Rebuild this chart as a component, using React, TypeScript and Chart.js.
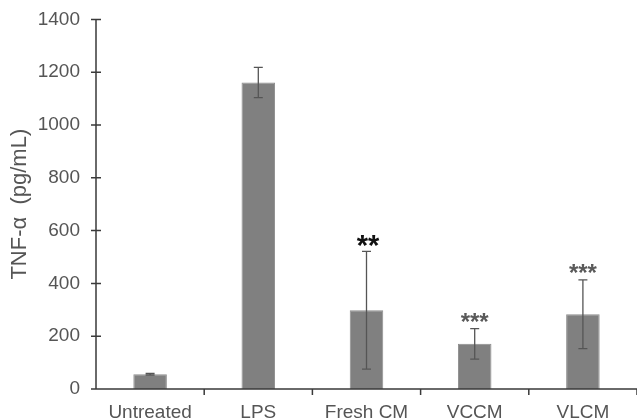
import React, { useEffect, useRef } from "react";
import { Chart, registerables } from "chart.js";

Chart.register(...registerables);

const categories = ["Untreated", "LPS", "Fresh CM", "VCCM", "VLCM"];
const means = [56, 1161, 298, 171, 283];
const errors = [3, 57, 223, 58, 130];
const significance = ["", "", "**", "***", "***"];
const yTicks = [0, 200, 400, 600, 800, 1000, 1200, 1400];
const yTitle = "TNF-α  (pg/mL)";

const FONT = "'Liberation Sans', Arial, sans-serif";

const overlayPlugin = {
  id: "overlay",
  afterDatasetsDraw(chart: any) {
    const ctx = chart.ctx;
    const xs = chart.scales.x;
    const ys = chart.scales.y;
    const area = chart.chartArea;
    ctx.save();
    // error bars
    ctx.strokeStyle = "#555555";
    ctx.lineWidth = 1.3;
    const cap = 4.5;
    means.forEach((m, i) => {
      const x = xs.getPixelForValue(i);
      const yt = ys.getPixelForValue(m + errors[i]);
      const yb = ys.getPixelForValue(m - errors[i]);
      ctx.beginPath();
      ctx.moveTo(x, yt);
      ctx.lineTo(x, yb);
      ctx.moveTo(x - cap, yt);
      ctx.lineTo(x + cap, yt);
      ctx.moveTo(x - cap, yb);
      ctx.lineTo(x + cap, yb);
      ctx.stroke();
    });
    // significance markers
    significance.forEach((s, i) => {
      if (!s) return;
      const big = s.length === 2;
      ctx.font = big ? `bold 29px ${FONT}` : `bold 24px ${FONT}`;
      ctx.fillStyle = big ? "#111111" : "#5a5a5a";
      ctx.textAlign = "center";
      ctx.textBaseline = "alphabetic";
      const mt = ctx.measureText(s);
      const target = ys.getPixelForValue(means[i] + errors[i]) - (big ? 10 : 11);
      const base = target + (mt.actualBoundingBoxAscent - mt.actualBoundingBoxDescent) / 2;
      ctx.fillText(s, xs.getPixelForValue(i) + (big ? 1.5 : 0), base);
    });
    // axes
    ctx.strokeStyle = "#3a3a3a";
    ctx.lineWidth = 1.5;
    ctx.beginPath();
    ctx.moveTo(area.left, area.top);
    ctx.lineTo(area.left, area.bottom);
    ctx.moveTo(area.left - 5, area.bottom);
    ctx.lineTo(area.right, area.bottom);
    yTicks.forEach((v) => {
      const y = ys.getPixelForValue(v);
      ctx.moveTo(area.left - 5, y);
      ctx.lineTo(area.left + 5, y);
    });
    for (let i = 1; i <= categories.length; i++) {
      const x = area.left + ((area.right - area.left) * i) / categories.length;
      ctx.moveTo(x, area.bottom);
      ctx.lineTo(x, area.bottom + 6);
    }
    ctx.stroke();
    ctx.restore();
  },
};

export default function App() {
  const ref = useRef<HTMLCanvasElement>(null);
  useEffect(() => {
    if (!ref.current) return;
    const chart = new Chart(ref.current, {
      type: "bar",
      data: {
        labels: categories,
        datasets: [
          {
            data: means,
            backgroundColor: "#808080",
            borderColor: "#8c8c8c",
            borderWidth: 1,
            categoryPercentage: 1,
            barPercentage: 0.31,
          },
        ],
      },
      options: {
        animation: false,
        responsive: true,
        maintainAspectRatio: false,
        layout: { padding: { top: 18, right: 0, left: 0, bottom: 0 } },
        plugins: { legend: { display: false }, tooltip: { enabled: false } },
        scales: {
          x: {
            grid: { display: false },
            border: { display: false },
            ticks: { color: "#555555", font: { family: FONT, size: 19 }, padding: 4, maxRotation: 0 },
            afterFit: (s: any) => {
              s.height = 30;
            },
          },
          y: {
            min: 0,
            max: 1400,
            grid: { display: false },
            border: { display: false },
            ticks: {
              stepSize: 200,
              color: "#555555",
              font: { family: FONT, size: 19 },
              padding: 8,
              callback: (v: any) => String(v),
            },
            title: {
              display: true,
              text: yTitle,
              color: "#555555",
              font: { family: FONT, size: 22 },
              padding: { top: 7, bottom: 0 },
            },
            afterFit: (s: any) => {
              s.width = 96;
            },
          },
        },
      },
      plugins: [overlayPlugin],
    });
    return () => chart.destroy();
  }, []);
  return (
    <div style={{ position: "fixed", left: 0, top: 0, width: 637, height: 419, background: "#fff" }}>
      <canvas ref={ref} />
    </div>
  );
}
